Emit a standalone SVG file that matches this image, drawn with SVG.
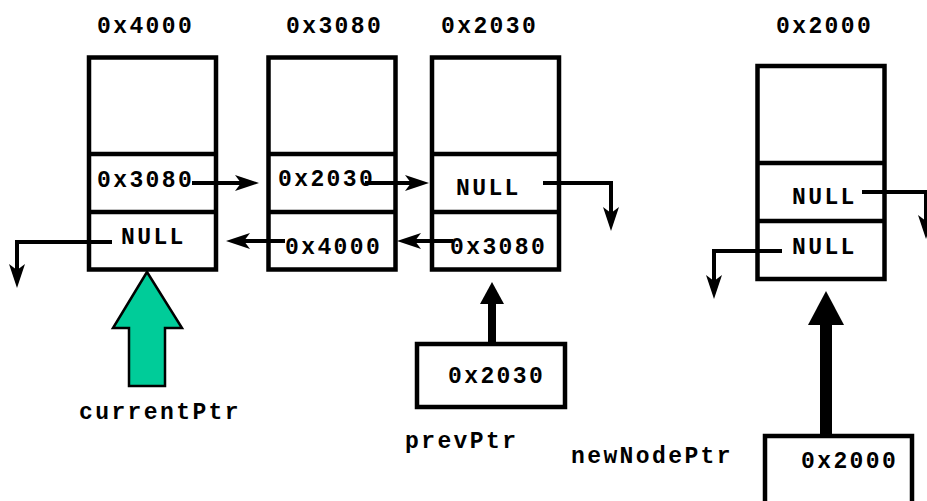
<svg xmlns="http://www.w3.org/2000/svg" width="927" height="501" viewBox="0 0 927 501">
  <style>
    .box { fill: #ffffff; stroke: #000000; stroke-width: 4.5; }
    .div { stroke: #000000; stroke-width: 4.5; }
    .t { font-family: "Liberation Mono", "Courier New", monospace; font-weight: bold; font-size: 23px; letter-spacing: 2.4px; fill: #000000; }
    .link { fill: none; stroke: #000000; stroke-width: 4; stroke-linejoin: miter; }
  </style>
  <defs>
    <marker id="head" markerUnits="userSpaceOnUse" markerWidth="30" markerHeight="20" viewBox="0 -10 30 20" refX="6" refY="0" orient="auto" overflow="visible">
      <path d="M0,-8 L24,0 L0,8 L6,0 Z" fill="#000000"/>
    </marker>
  </defs>

  <rect width="927" height="501" fill="#ffffff"/>

  <!-- list nodes -->
  <g id="node-0x4000">
    <text class="t" x="97" y="33">0x4000</text>
    <rect class="box" x="89" y="57.5" width="127" height="212"/>
    <line class="div" x1="89" y1="154" x2="216" y2="154"/>
    <line class="div" x1="89" y1="212" x2="216" y2="212"/>
    <text class="t" x="97" y="187">0x3080</text>
    <text class="t" x="121" y="244">NULL</text>
  </g>

  <g id="node-0x3080">
    <text class="t" x="286" y="33">0x3080</text>
    <rect class="box" x="268.5" y="57.5" width="127" height="212"/>
    <line class="div" x1="268.5" y1="154" x2="395.5" y2="154"/>
    <line class="div" x1="268.5" y1="212" x2="395.5" y2="212"/>
    <text class="t" x="278" y="186">0x2030</text>
    <text class="t" x="285" y="254">0x4000</text>
  </g>

  <g id="node-0x2030">
    <text class="t" x="441" y="33">0x2030</text>
    <rect class="box" x="432" y="57.5" width="127" height="212"/>
    <line class="div" x1="432" y1="154" x2="559" y2="154"/>
    <line class="div" x1="432" y1="212" x2="559" y2="212"/>
    <text class="t" x="456" y="195">NULL</text>
    <text class="t" x="450" y="254">0x3080</text>
  </g>

  <g id="node-0x2000">
    <text class="t" x="776" y="33">0x2000</text>
    <rect class="box" x="757.5" y="66" width="127" height="213"/>
    <line class="div" x1="757.5" y1="163" x2="884.5" y2="163"/>
    <line class="div" x1="757.5" y1="221" x2="884.5" y2="221"/>
    <text class="t" x="792" y="204">NULL</text>
    <text class="t" x="792" y="254">NULL</text>
  </g>

  <!-- pointer variables -->
  <g id="currentPtr">
    <polygon points="147,272 182,328 165,328 165,386 129,386 129,328 113,328" fill="#00cc99" stroke="#000000" stroke-width="2.5" stroke-linejoin="miter"/>
    <text class="t" x="79" y="419">currentPtr</text>
  </g>

  <g id="prevPtr">
    <rect class="box" x="417" y="344" width="148" height="63"/>
    <text class="t" x="448" y="383">0x2030</text>
    <text class="t" x="405" y="448">prevPtr</text>
  </g>

  <g id="newNodePtr">
    <rect class="box" x="765" y="436" width="147" height="80"/>
    <text class="t" x="801" y="468">0x2000</text>
    <text class="t" x="571" y="463">newNodePtr</text>
  </g>

  <!-- connectors -->
  <g id="connectors">
    <path class="link" d="M192,183 H241" marker-end="url(#head)"/>
    <path class="link" d="M365,183 H411" marker-end="url(#head)"/>
    <path class="link" d="M543,183 H611 V213" marker-end="url(#head)"/>
    <path class="link" d="M112,242 H17 V270" marker-end="url(#head)"/>
    <path class="link" d="M285,241 H244" marker-end="url(#head)"/>
    <path class="link" d="M453,241 H415" marker-end="url(#head)"/>
    <path class="link" d="M862,192 H926 V221" marker-end="url(#head)"/>
    <path class="link" d="M782,251 H714 V281" marker-end="url(#head)"/>
    <!-- prevPtr -> node 0x2030 -->
    <rect x="488" y="302" width="8" height="42" fill="#000000"/>
    <polygon points="480,304 504,304 492,282" fill="#000000"/>
    <!-- newNodePtr -> node 0x2000 -->
    <rect x="820" y="323" width="12" height="113" fill="#000000"/>
    <polygon points="808,325 844,325 826,291" fill="#000000"/>
  </g>
</svg>
